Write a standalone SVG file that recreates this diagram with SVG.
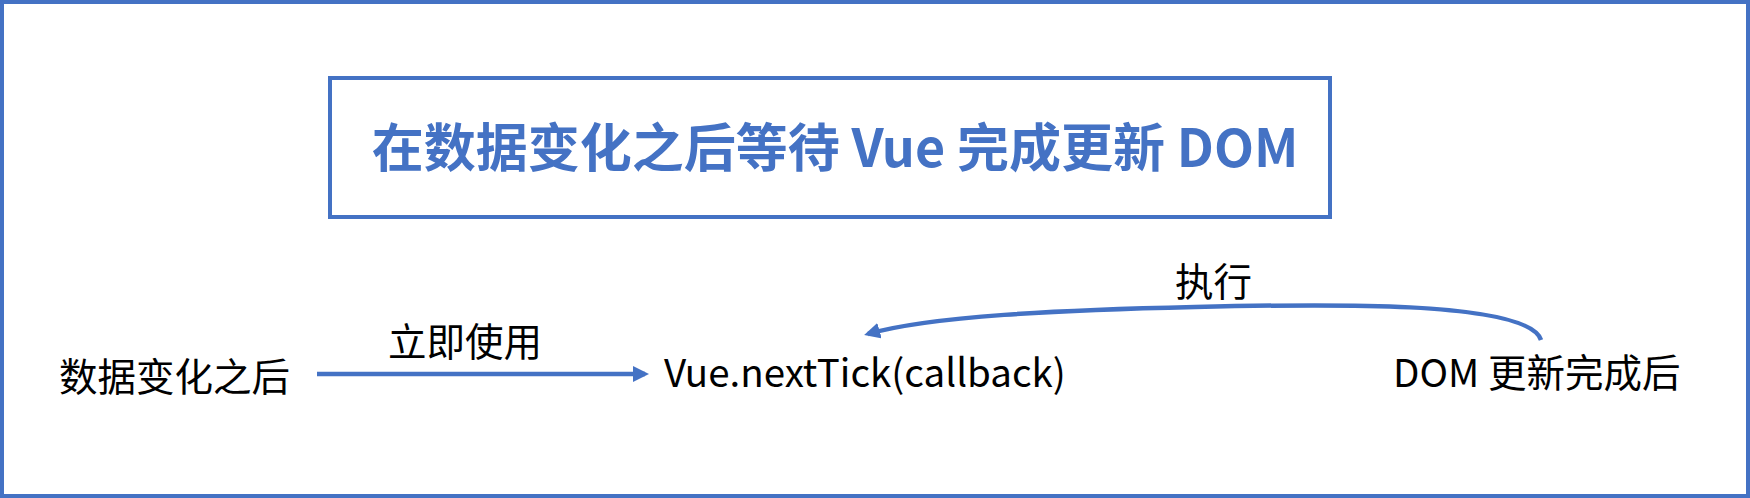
<svg xmlns="http://www.w3.org/2000/svg" width="1750" height="498" viewBox="0 0 1750 498">
<style>
.lbl{font-family:"Noto Sans CJK SC","Microsoft YaHei",sans-serif;font-size:38.5px;fill:#000}
.title{font-family:"Noto Sans CJK SC","Microsoft YaHei",sans-serif;font-size:52px;font-weight:bold;fill:#4472C4}
.conn{fill:none;stroke:#4472C4;stroke-width:4.5}
</style>
<defs>
<marker id="ah2" markerWidth="16" markerHeight="16" refX="12" refY="8" orient="auto" markerUnits="userSpaceOnUse" viewBox="0 0 16 16">
<path d="M0,0 L16,8 L0,16 z" fill="#4472C4"/>
</marker>
</defs>
<rect x="2" y="2" width="1746" height="494" fill="#fff" stroke="#4472C4" stroke-width="4"/>
<g id="title">
<rect x="330" y="78" width="1000" height="139" fill="none" stroke="#4472C4" stroke-width="4"/>
<text class="title" x="835" y="167" text-anchor="middle">在数据变化之后等待 Vue 完成更新 DOM</text>
</g>
<g id="node-data">
<text class="lbl" x="59" y="391">数据变化之后</text>
</g>
<g id="node-nexttick">
<text class="lbl" x="664" y="387">Vue.nextTick(callback)</text>
</g>
<g id="node-dom">
<text class="lbl" x="1393" y="387">DOM 更新完成后</text>
</g>
<g id="connectors">
<path class="conn" d="M317,374 L645,374" marker-end="url(#ah2)"/>
<text class="lbl" x="388" y="356">立即使用</text>
<path class="conn" d="M1541,340 C1528,300 1320,304 1195,307 C1060,310 930,316 868,334" marker-end="url(#ah2)"/>
<text class="lbl" x="1175" y="296">执行</text>
</g>
</svg>
